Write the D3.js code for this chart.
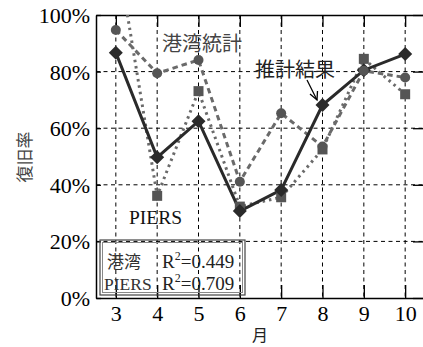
<!DOCTYPE html>
<html>
<head>
<meta charset="utf-8">
<script src="https://cdn.jsdelivr.net/npm/d3@7"></script>
<style>
  html, body { margin: 0; padding: 0; background: #fff; }
  svg { display: block; }
</style>
</head>
<body>
<svg id="chart" width="423" height="347"></svg>
<script>
// Monthly recovery rate (%) after the disaster
const months = [3, 4, 5, 6, 7, 8, 9, 10];
const estimate = [86.7, 49.7, 62.5, 30.7, 38.2, 68.2, 80.5, 86.2];   // 推計結果
const portStats = [94.7, 79.4, 84.1, 41.1, 65.3, 53.5, 80.3, 77.9];  // 港湾統計
const piers = [125, 36.1, 73.1, 32.3, 35.6, 52.5, 84.5, 72.0];       // PIERS
const yTicks = [0, 20, 40, 60, 80, 100];
const fitLabels = ["港湾", "PIERS"];
const fitR2 = ["0.449", "0.709"];

const svg = d3.select("#chart");
const serif = "'Liberation Serif', 'Times New Roman', serif";
const cjk = "'Noto Sans CJK JP', 'Noto Sans CJK SC', sans-serif";

const pL = 96, pR = 425, pT = 15, pB = 298;
const x = d3.scaleLinear().domain([2.52, 10.48]).range([pL, pR]);
const y = d3.scaleLinear().domain([0, 100]).range([pB, pT]);

svg.append("defs").append("clipPath").attr("id", "plot")
  .append("rect").attr("x", pL).attr("y", pT)
  .attr("width", pR - pL).attr("height", pB - pT);

// grid
const grid = svg.append("g").attr("stroke", "#000").attr("stroke-width", 1)
  .attr("stroke-dasharray", "4,3.5");
grid.selectAll("line.v").data(months).join("line").attr("class", "v")
  .attr("x1", d => x(d)).attr("x2", d => x(d))
  .attr("y1", pT).attr("y2", pB);
grid.selectAll("line.h").data(yTicks.filter(d => d > 0 && d < 100)).join("line")
  .attr("class", "h")
  .attr("x1", pL).attr("x2", pR)
  .attr("y1", d => y(d)).attr("y2", d => y(d));

// axes
const yAxis = d3.axisLeft(y).tickValues(yTicks).tickFormat(d => d + "%")
  .tickSizeInner(-5).tickSizeOuter(0).tickPadding(6);
const gy = svg.append("g").attr("transform", `translate(${pL},0)`).call(yAxis);
const yAxisR = d3.axisRight(y).tickValues(yTicks).tickFormat("")
  .tickSizeInner(-12).tickSizeOuter(0);
const gyr = svg.append("g").attr("transform", `translate(${pR},0)`).call(yAxisR);
const xAxis = d3.axisBottom(x).tickValues(months).tickFormat(d3.format("d"))
  .tickSizeInner(-13).tickSizeOuter(0).tickPadding(7);
const gx = svg.append("g").attr("transform", `translate(0,${pB})`).call(xAxis);
const xAxisT = d3.axisTop(x).tickValues(months).tickFormat("")
  .tickSizeInner(-12).tickSizeOuter(0);
const gxt = svg.append("g").attr("transform", `translate(0,${pT})`).call(xAxisT);
[gy, gyr, gx, gxt].forEach(g => {
  g.attr("font-family", null).attr("font-size", null);
  g.select(".domain").attr("stroke", "#000").attr("stroke-width", 1.5);
  g.selectAll(".tick line").attr("stroke", "#000").attr("stroke-width", 1.3);
  g.selectAll("text").attr("fill", "#000")
    .style("font-family", serif).style("font-size", "22px");
});
gy.selectAll("text").attr("dy", "0.34em");

// axis titles
svg.append("text").attr("transform", "translate(23,157) rotate(-90)")
  .attr("text-anchor", "middle").attr("dominant-baseline", "central")
  .style("font-family", cjk).style("font-size", "17px").attr("fill", "#444")
  .text("復旧率");
svg.append("text").attr("x", 260).attr("y", 334)
  .attr("text-anchor", "middle").attr("dominant-baseline", "central")
  .style("font-family", cjk).style("font-size", "16px").attr("fill", "#222")
  .text("月");

// series
const plot = svg.append("g").attr("clip-path", "url(#plot)");
const line = vals => d3.line().x((d, i) => x(months[i])).y(d => y(d))(vals);

plot.append("path").attr("d", line(piers)).attr("fill", "none")
  .attr("stroke", "#6a6a6a").attr("stroke-width", 3)
  .attr("stroke-dasharray", "2.5,4");
plot.append("path").attr("d", line(portStats)).attr("fill", "none")
  .attr("stroke", "#6a6a6a").attr("stroke-width", 3)
  .attr("stroke-dasharray", "5.5,4");
plot.append("path").attr("d", line(estimate)).attr("fill", "none")
  .attr("stroke", "#2a2a2a").attr("stroke-width", 3);

plot.selectAll("rect.sq").data(piers).join("rect").attr("class", "sq")
  .attr("x", (d, i) => x(months[i]) - 5).attr("y", d => y(d) - 5)
  .attr("width", 10).attr("height", 10).attr("fill", "#555");
plot.selectAll("path.dm").data(estimate).join("path").attr("class", "dm")
  .attr("d", (d, i) => {
    const cx = x(months[i]), cy = y(d), r = 7;
    return `M${cx},${cy - r}L${cx + r},${cy}L${cx},${cy + r}L${cx - r},${cy}Z`;
  })
  .attr("fill", "#2a2a2a");
plot.selectAll("circle.pt").data(portStats).join("circle").attr("class", "pt")
  .attr("cx", (d, i) => x(months[i])).attr("cy", d => y(d))
  .attr("r", 5).attr("fill", "#555");

// series annotations
svg.append("text").attr("x", 162).attr("y", 42)
  .attr("dominant-baseline", "central")
  .style("font-family", cjk).style("font-size", "20px").attr("fill", "#444")
  .text("港湾統計");
svg.append("text").attr("x", 255).attr("y", 68)
  .attr("dominant-baseline", "central")
  .style("font-family", cjk).style("font-size", "20px").attr("fill", "#222")
  .text("推計結果");
svg.append("text").attr("x", 129).attr("y", 224)
  .style("font-family", serif).style("font-size", "19.5px").attr("fill", "#111")
  .text("PIERS");

// arrow to the estimate line
svg.append("path").attr("d", "M307,80L317,100").attr("stroke", "#000")
  .attr("stroke-width", 1.3).attr("fill", "none");
svg.append("path").attr("d", "M310,94L317,100L317.5,91").attr("stroke", "#000")
  .attr("stroke-width", 1.3).attr("fill", "none");

// fit statistics box
const box = svg.append("g");
box.append("rect").attr("x", 100).attr("y", 240).attr("width", 145).attr("height", 55)
  .attr("fill", "none").attr("stroke", "#444").attr("stroke-width", 1.2);
box.append("rect").attr("x", 102.5).attr("y", 242.5).attr("width", 140).attr("height", 50)
  .attr("fill", "none").attr("stroke", "#888").attr("stroke-width", 1);
fitLabels.forEach((lab, i) => {
  const by = 268 + i * 22;
  box.append("text").attr("x", i === 0 ? 107 : 104).attr("y", by)
    .style("font-family", i === 0 ? cjk : serif)
    .style("font-size", i === 0 ? "17px" : "17.5px").attr("fill", "#333")
    .text(lab);
  const t = box.append("text").attr("x", 162).attr("y", by)
    .style("font-family", serif).style("font-size", "19px").attr("fill", "#222");
  t.append("tspan").text("R");
  t.append("tspan").attr("dy", -8).style("font-size", "12px").text("2");
  t.append("tspan").attr("dy", 8).text("=" + fitR2[i]);
});
</script>
</body>
</html>
